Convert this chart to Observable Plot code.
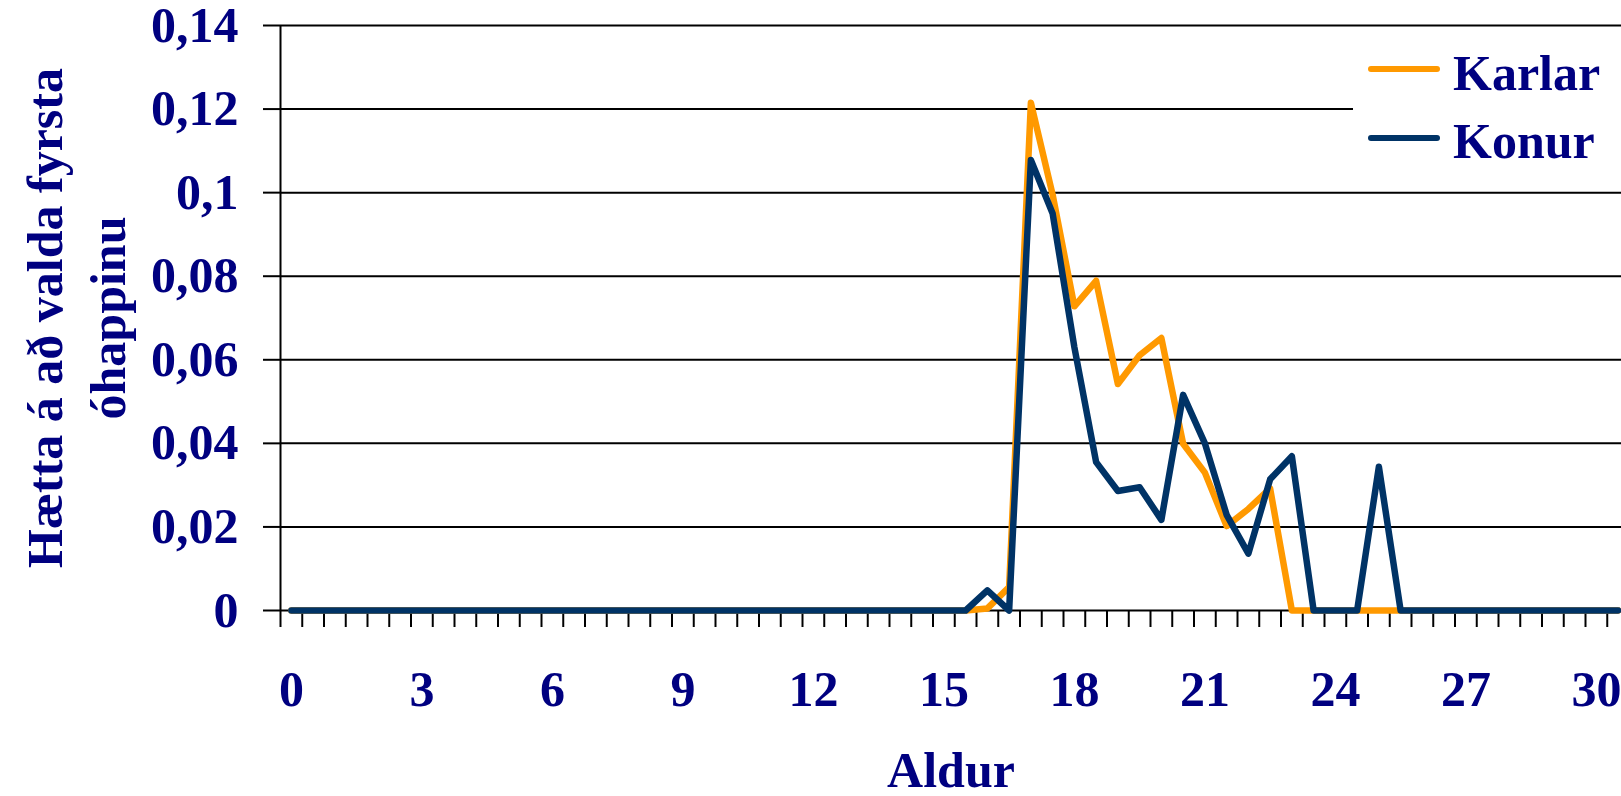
<!DOCTYPE html>
<html><head><meta charset="utf-8">
<script src="https://cdn.jsdelivr.net/npm/d3@7"></script>
<script src="https://cdn.jsdelivr.net/npm/@observablehq/plot@0.6"></script>
<style>
html,body{margin:0;padding:0;background:#fff;overflow:hidden}
#wrap{position:relative;width:1621px;height:796px}
#legend{position:absolute;left:1353px;top:40px;width:268px;height:135px;background:#fff;font-family:"Liberation Serif","Times New Roman",serif;font-weight:bold;font-size:50px;color:#000080}
.sw{position:absolute;left:15px;width:72px;height:6px;border-radius:3px}
.lt{position:absolute;left:100px;line-height:50px;white-space:nowrap}
</style></head><body><div id="wrap"><div id="legend"></div></div>
<script>
// Age categories (half-year steps)
const ages = [0,0.5,1,1.5,2,2.5,3,3.5,4,4.5,5,5.5,6,6.5,7,7.5,8,8.5,9,9.5,10,10.5,11,11.5,12,12.5,13,13.5,14,14.5,15,15.5,
  16,16.5,17,17.5,18,18.5,19,19.5,20,20.5,21,21.5,22,22.5,23,23.5,24,24.5,25,25.5,26,26.5,27,27.5,28,28.5,29,29.5,30,30.5];
// Karlar (men)
const karlar = [0,0,0,0,0,0,0,0,0,0,0,0,0,0,0,0,0,0,0,0,0,0,0,0,0,0,0,0,0,0,0,0,
  0.0005,0.0056,0.1215,0.0995,0.0728,0.0789,0.0542,0.0611,0.0652,0.0399,0.0330,0.0202,0.0243,0.0292,
  0,0,0,0,0,0,0,0,0,0,0,0,0,0,0,0];
// Konur (women)
const konur = [0,0,0,0,0,0,0,0,0,0,0,0,0,0,0,0,0,0,0,0,0,0,0,0,0,0,0,0,0,0,0,0,
  0.0048,0,0.1078,0.0950,0.063,0.0355,0.0286,0.0295,0.0217,0.0516,0.0400,0.0229,0.0136,0.0314,0.0369,0,0,0,0.0344,
  0,0,0,0,0,0,0,0,0,0,0];
const seriesNames = ["Karlar", "Konur"];
const seriesColors = ["#FF9900", "#003366"];
const yTicks = [0, 0.02, 0.04, 0.06, 0.08, 0.1, 0.12, 0.14];
const yTickLabels = ["0", "0,02", "0,04", "0,06", "0,08", "0,1", "0,12", "0,14"];
const xLabelTicks = [0, 3, 6, 9, 12, 15, 18, 21, 24, 27, 30];
const xLabel = "Aldur";
const yLabel = "Hætta á að valda fyrsta\nóhappinu";

const xTickMarks = d3.range(-0.25, 31, 0.5); // category boundaries
const rowsK = ages.map((a, i) => ({age: a, value: karlar[i]}));
const rowsW = ages.map((a, i) => ({age: a, value: konur[i]}));
const navy = "#000080";
const font = "'Liberation Serif','Times New Roman',serif";

const chart = Plot.plot({
  width: 1621,
  height: 796,
  marginLeft: 280,
  marginRight: 0,
  marginTop: 25,
  marginBottom: 186,
  style: {fontFamily: font, fontWeight: "bold", background: "#fff"},
  x: {domain: [-0.25, 30.75], range: [280, 1628.5]},
  y: {domain: [0, 0.14]},
  marks: [
    Plot.ruleY(yTicks, {stroke: "black", strokeWidth: 2}),
    Plot.axisY({ticks: yTicks, tickSize: 17, tickPadding: 25, strokeWidth: 2, stroke: "black",
      tickFormat: d => yTickLabels[yTicks.indexOf(d)], fontSize: 50, fill: navy, label: null}),
    Plot.axisX({ticks: xTickMarks, tickSize: 17, strokeWidth: 2, stroke: "black", tickFormat: () => "", label: null}),
    Plot.axisX({ticks: xLabelTicks, tickSize: 0, tickPadding: 60, fontSize: 50, fill: navy, label: null}),
    Plot.ruleX([-0.25], {y1: 0, y2: 0.14, stroke: "black", strokeWidth: 2}),
    Plot.line(rowsK, {x: "age", y: "value", stroke: seriesColors[0], strokeWidth: 6.5}),
    Plot.line(rowsW, {x: "age", y: "value", stroke: seriesColors[1], strokeWidth: 6.5}),
    Plot.text([xLabel], {frameAnchor: "bottom", lineAnchor: "bottom", dy: 176, fontSize: 50, fill: navy}),
    Plot.text([yLabel], {frameAnchor: "left", textAnchor: "middle", rotate: -90, lineAnchor: "top", lineHeight: 1.25, dx: -262.5, fontSize: 50, fill: navy})
  ]
});
document.getElementById("wrap").prepend(chart);

const legend = document.getElementById("legend");
const swTops = [26, 95];
const txTops = [8, 76];
seriesNames.forEach((name, i) => {
  const sw = document.createElement("div");
  sw.className = "sw";
  sw.style.top = swTops[i] + "px";
  sw.style.background = seriesColors[i];
  legend.appendChild(sw);
  const t = document.createElement("div");
  t.className = "lt";
  t.style.top = txTops[i] + "px";
  t.textContent = name;
  legend.appendChild(t);
});
</script>
</body></html>
